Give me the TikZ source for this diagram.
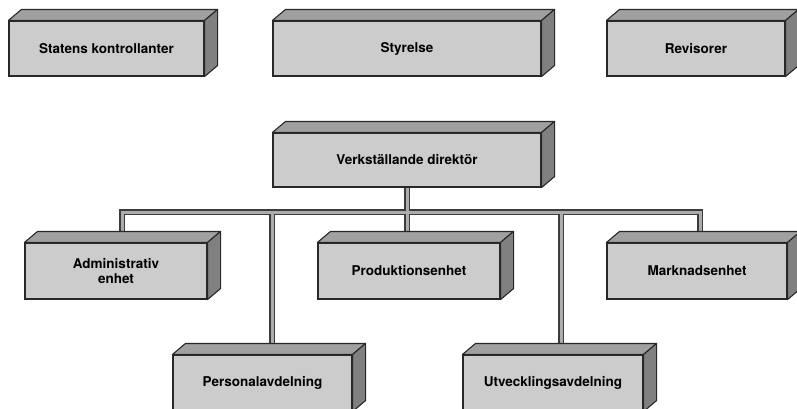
\documentclass[tikz,border=0pt]{standalone}
\usepackage{fontspec}
\setmainfont{TeX Gyre Heros}
\usetikzlibrary{backgrounds}
\definecolor{frontc}{RGB}{204,204,204}
\definecolor{topc}{RGB}{160,160,160}
\definecolor{sidec}{RGB}{128,128,128}
\definecolor{edgec}{RGB}{40,40,40}
\definecolor{pipeout}{RGB}{60,60,60}
\definecolor{pipein}{RGB}{172,172,172}
\def\bdx{13}
\def\bdy{11}
\newcommand\boxfaces[1]{%
  \filldraw[topc,draw=edgec,line width=1.1pt,line join=round] (#1.north west) -- ++(\bdx,-\bdy) -- ([shift={(\bdx,-\bdy)}]#1.north east) -- (#1.north east) -- cycle;
  \filldraw[sidec,draw=edgec,line width=1.1pt,line join=round] (#1.north east) -- ++(\bdx,-\bdy) -- ([shift={(\bdx,-\bdy)}]#1.south east) -- (#1.south east) -- cycle;}
\tikzset{
  unit/.style={draw=edgec, line width=1.1pt, fill=frontc, rectangle, inner sep=0pt,
    font=\fontsize{13.5}{15}\selectfont\bfseries, text=black, align=center},
  pipeo/.style={draw=pipeout, line width=6pt},
  pipei/.style={draw=pipein, line width=3pt}
}
\begin{document}
\begin{tikzpicture}[x=1pt,y=-1pt]
\clip (0,0) rectangle (797,408);
% nodes
\node[unit, minimum width=195pt, minimum height=55pt] (stat) at (106.5,48.5) {Statens kontrollanter};
\node[unit, minimum width=268pt, minimum height=55pt] (styr) at (407,48.5) {Styrelse};
\node[unit, minimum width=178pt, minimum height=55pt] (rev) at (696,48.5) {Revisorer};
\node[unit, minimum width=268pt, minimum height=54pt] (vd) at (407,160) {Verkställande direktör};
\node[unit, minimum width=182pt, minimum height=56pt] (adm) at (116,271) {Administrativ\\enhet};
\node[unit, minimum width=182pt, minimum height=56pt] (prod) at (409,271) {Produktionsenhet};
\node[unit, minimum width=180pt, minimum height=56pt] (mark) at (697,271) {Marknadsenhet};
\node[unit, minimum width=179pt, minimum height=56pt] (pers) at (262.5,383) {Personalavdelning};
\node[unit, minimum width=180pt, minimum height=56pt] (utv) at (553,383) {Utvecklingsavdelning};
\foreach \n in {stat,styr,rev,vd,adm,prod,mark,pers,utv} {\boxfaces{\n}}
% connectors
\coordinate (busL) at (122,212);
\coordinate (busR) at (700,212);
\coordinate (busP) at (272,212);
\coordinate (busU) at (561,212);
\begin{pgfonlayer}{background}
\foreach \s in {pipeo,pipei}{
  \draw[\s] (adm.north -| busL) -- (busL) -- (busR) -- (mark.north -| busR);
  \draw[\s] (vd.south) -- (vd.south |- prod.north);
  \draw[\s] (busP) -- (busP |- pers.north);
  \draw[\s] (busU) -- (busU |- utv.north);
}
\end{pgfonlayer}
\end{tikzpicture}
\end{document}
